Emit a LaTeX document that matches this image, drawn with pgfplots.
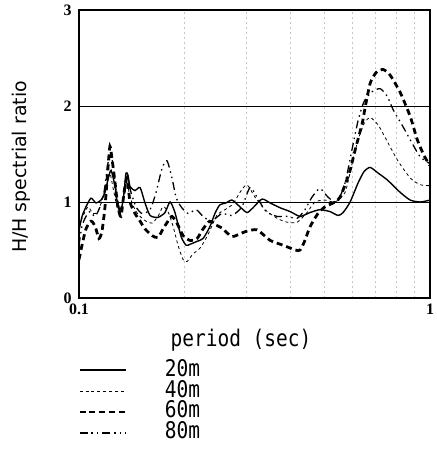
\documentclass[border=0pt]{standalone}
\usepackage{fontspec}
\setmainfont{Liberation Serif}
\newfontfamily\goth[FakeStretch=0.85]{DejaVu Sans Mono}
\newfontfamily\labf{DejaVu Sans}
\usepackage{pgfplots}
\usepackage{pgfplotstable}
\pgfplotsset{compat=1.18}

\pgfplotstableread{
p v
0.1000 0.70
0.1020 0.85
0.1047 0.95
0.1082 1.04
0.1118 0.99
0.1155 1.02
0.1186 1.10
0.1209 1.23
0.1234 1.33
0.1267 1.16
0.1291 0.95
0.1317 0.90
0.1344 1.10
0.1361 1.30
0.1379 1.28
0.1398 1.16
0.1444 1.12
0.1493 1.15
0.1542 0.99
0.1594 0.86
0.1679 0.84
0.1758 0.89
0.1817 1.00
0.1877 0.89
0.1954 0.64
0.2019 0.55
0.2073 0.56
0.2170 0.59
0.2257 0.62
0.2358 0.74
0.2439 0.88
0.2519 0.97
0.2622 0.99
0.2730 1.02
0.2874 0.95
0.3010 0.89
0.3132 0.94
0.3322 1.03
0.3504 0.99
0.3741 0.94
0.3998 0.90
0.4266 0.85
0.4550 0.89
0.4858 0.92
0.5191 0.90
0.5471 0.86
0.5654 0.89
0.5921 1.00
0.6242 1.20
0.6496 1.32
0.6758 1.36
0.7123 1.30
0.7556 1.23
0.8227 1.10
0.8785 1.02
0.9380 1.00
1.0000 1.02
}\tableA

\pgfplotstableread{
p v
0.1000 0.75
0.1026 0.85
0.1061 0.95
0.1096 0.88
0.1133 0.90
0.1170 1.05
0.1202 1.20
0.1225 1.30
0.1250 1.15
0.1283 0.95
0.1308 0.88
0.1344 1.05
0.1370 1.20
0.1398 1.05
0.1444 0.92
0.1493 0.85
0.1552 0.80
0.1615 0.78
0.1679 0.85
0.1735 0.95
0.1793 0.90
0.1853 0.75
0.1915 0.55
0.1980 0.40
0.2032 0.38
0.2114 0.46
0.2213 0.52
0.2331 0.66
0.2470 0.86
0.2605 0.92
0.2748 0.98
0.2874 1.10
0.3010 1.18
0.3173 1.05
0.3389 0.92
0.3668 0.83
0.3918 0.79
0.4185 0.79
0.4462 0.89
0.4702 1.00
0.5024 1.02
0.5364 1.00
0.5729 1.10
0.5998 1.40
0.6242 1.65
0.6496 1.82
0.6758 1.88
0.7123 1.80
0.7458 1.67
0.8068 1.44
0.8785 1.25
0.9380 1.18
1.0000 1.17
}\tableB

\pgfplotstableread{
p v
0.1000 0.40
0.1020 0.55
0.1047 0.72
0.1082 0.80
0.1111 0.75
0.1140 0.62
0.1163 0.70
0.1186 0.95
0.1209 1.35
0.1225 1.58
0.1242 1.45
0.1267 1.20
0.1291 0.95
0.1317 0.85
0.1344 1.10
0.1370 1.25
0.1398 1.00
0.1444 0.88
0.1493 0.80
0.1542 0.72
0.1615 0.65
0.1679 0.63
0.1735 0.72
0.1793 0.80
0.1841 0.85
0.1902 0.78
0.1980 0.65
0.2073 0.60
0.2170 0.62
0.2257 0.72
0.2358 0.80
0.2454 0.76
0.2553 0.73
0.2730 0.64
0.2971 0.69
0.3215 0.71
0.3504 0.60
0.3816 0.55
0.4131 0.50
0.4266 0.50
0.4403 0.60
0.4550 0.74
0.4795 0.88
0.5024 0.95
0.5364 1.00
0.5544 1.05
0.5729 1.18
0.5921 1.33
0.6118 1.54
0.6411 1.82
0.6539 1.99
0.6758 2.24
0.7030 2.35
0.7360 2.38
0.7706 2.32
0.8227 2.14
0.8785 1.89
0.9197 1.65
0.9628 1.48
1.0000 1.38
}\tableC

\pgfplotstableread{
p v
0.1000 0.55
0.1020 0.75
0.1047 0.85
0.1075 0.90
0.1111 0.85
0.1148 0.95
0.1178 1.10
0.1209 1.40
0.1234 1.50
0.1258 1.30
0.1283 1.05
0.1308 0.92
0.1344 1.05
0.1370 1.25
0.1407 1.10
0.1454 0.95
0.1512 0.88
0.1594 0.92
0.1658 1.10
0.1724 1.35
0.1781 1.43
0.1841 1.25
0.1890 1.05
0.1954 0.95
0.2046 0.88
0.2156 0.92
0.2257 0.85
0.2385 0.80
0.2553 0.88
0.2730 0.86
0.2912 0.95
0.3070 1.15
0.3215 1.05
0.3412 0.90
0.3668 0.85
0.3918 0.85
0.4185 0.83
0.4403 0.92
0.4610 1.05
0.4858 1.14
0.5124 1.05
0.5435 1.00
0.5729 1.20
0.5998 1.55
0.6242 1.85
0.6496 2.05
0.6847 2.15
0.7217 2.18
0.7556 2.10
0.7859 1.96
0.8391 1.78
0.8901 1.61
0.9380 1.47
1.0000 1.40
}\tableD

\begin{document}
\begin{tikzpicture}
\begin{axis}[
  scale only axis, width=351bp, height=288bp,
  xmode=log, xmin=0.1, xmax=1, ymin=0, ymax=3,
  clip mode=individual,
  xtick={0.1,1}, xticklabels={0.1,1},
  minor xtick={0.2,0.3,0.4,0.5,0.6,0.7,0.8,0.9},
  ytick={0,1,2,3}, yticklabels={0,1,2,3},
  xminorgrids, ymajorgrids,
  minor grid style={black!22, dash pattern=on 2pt off 3pt, line width=0.5pt},
  major grid style={black, line width=0.9pt},
  major tick length=0pt, minor tick length=0pt,
  axis line style={line width=1.5pt},
  /pgf/number format/assume math mode=true,
  tick label style={font=\bfseries\fontsize{16}{16}\selectfont},
  yticklabel style={xshift=-4bp},
  xticklabel style={yshift=-2bp},
  legend cell align=left,
  legend style={at={(axis description cs:-0.003,-0.2135)}, anchor=north west,
    draw=none, fill=none, inner sep=0pt, row sep=0pt,
    font=\goth\fontsize{23}{23}\selectfont,
    nodes={inner sep=0.5pt, text height=16pt, text depth=4pt},
    /tikz/every odd column/.append style={column sep=37.5bp}},
  legend image code/.code={\draw[#1] (0bp,0bp) -- (46bp,0bp);},
]
\addplot[black, line width=1.4pt, smooth, tension=0.4] table[x=p,y=v] {\tableA};
\addlegendentry{20m}
\addplot[black, line width=0.8pt, dash pattern=on 3pt off 3pt, smooth, tension=0.4] table[x=p,y=v] {\tableB};
\addlegendentry{40m}
\addplot[black, line width=2.8pt, dash pattern=on 6pt off 4pt, smooth, tension=0.4] table[x=p,y=v] {\tableC};
\addlegendentry{60m}
\addplot[black, line width=1.3pt, dash pattern=on 8pt off 4pt on 1.5pt off 4pt on 1.5pt off 4pt, smooth, tension=0.4] table[x=p,y=v] {\tableD};
\addlegendentry{80m}
\node[rotate=90, font=\labf\fontsize{19}{19}\selectfont] at (axis description cs:-0.165,0.455) {H/H spectrial ratio};
\node[font=\goth\fontsize{23}{23}\selectfont, anchor=base] at (axis description cs:0.4615,-0.170) {period (sec)};
\end{axis}
\pgfresetboundingbox
\path[use as bounding box] ([shift={(-79bp,-158bp)}]current axis.south west) rectangle ([shift={(7bp,10bp)}]current axis.north east);
\end{tikzpicture}
\end{document}
